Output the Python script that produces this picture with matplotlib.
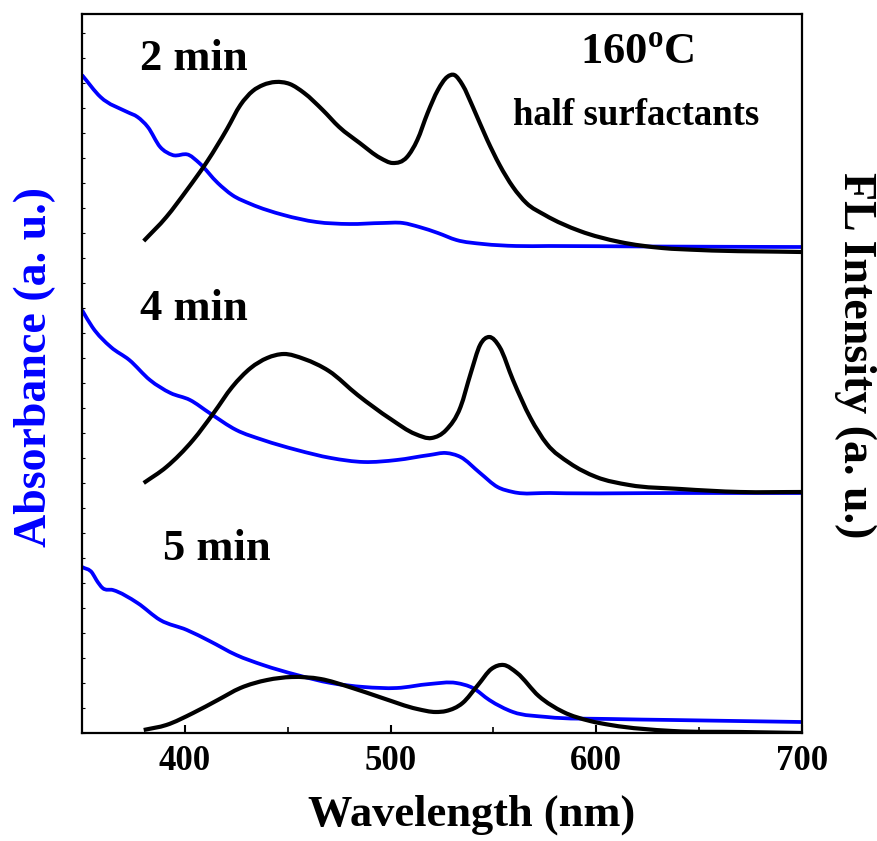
import matplotlib
matplotlib.use("Agg")
import matplotlib.pyplot as plt
from matplotlib.path import Path
from matplotlib.patches import PathPatch
from matplotlib.ticker import MultipleLocator, NullFormatter

# ---------------- data (wavelength nm, intensity a.u.) ----------------
abs2_wl = [350, 359, 372, 377, 382, 388, 394, 402, 407, 416, 423, 432, 448, 464, 480,
           496, 506, 514, 523, 532, 545, 561, 577, 626, 700]
abs2_y = [65.8, 63.6, 62.1, 61.6, 60.6, 58.6, 57.8, 57.8, 57.0, 55.0, 53.8, 52.9, 51.8, 51.1, 50.9,
          51.0, 51.0, 50.6, 50.0, 49.3, 48.9, 48.7, 48.7, 48.65, 48.6]

fl2_wl = [380, 391, 401, 411, 420.5, 427, 433, 438, 444, 451, 458, 467, 475, 485, 495, 501,
          508, 513, 518, 523, 527.5, 531, 535, 540, 547, 553, 559.5, 566, 575, 592, 611.5,
          632, 650, 700]
fl2_y = [49.2, 51.6, 54.3, 57.2, 60.4, 62.8, 64.2, 64.8, 65.1, 64.9, 64.0, 62.3, 60.6, 59.0,
         57.5, 57.0, 57.6, 59.3, 62.0, 64.3, 65.6, 65.8, 64.8, 62.6, 59.3, 56.8, 54.6, 53.0,
         51.8, 50.2, 49.1, 48.5, 48.3, 48.1]

abs4_wl = [350, 355, 364, 373, 383, 393, 402.5, 412, 425, 438, 454.5, 471, 487, 503, 519,
           527, 534, 543.5, 552, 559.5, 577.5, 641, 700]
abs4_y = [42.3, 40.6, 38.6, 37.3, 35.3, 34.0, 33.3, 32.0, 30.3, 29.3, 28.3, 27.5, 27.1, 27.3,
          27.8, 28.0, 27.6, 26.0, 24.6, 24.1, 24.0, 24.0, 24.0]

fl4_wl = [380, 391, 404, 414, 423, 432, 440, 448, 458, 470, 484, 500, 512, 520, 527, 534,
          539, 543.5, 548, 553, 559.5, 568, 576, 587, 600, 616, 641, 670, 700]
fl4_y = [25.0, 26.6, 29.3, 32.0, 34.6, 36.5, 37.5, 37.9, 37.4, 36.2, 33.8, 31.4, 29.9, 29.5,
         30.3, 32.6, 36.0, 38.8, 39.6, 38.6, 35.3, 31.5, 28.9, 27.0, 25.6, 24.8, 24.4, 24.1, 24.1]

abs5_wl = [350, 355, 357, 360, 365, 377, 388, 401, 412, 425, 438, 454.5, 471, 487, 503,
           519, 532, 540, 548, 559.5, 576, 607, 637, 700]
abs5_y = [16.6, 16.0, 15.3, 14.5, 14.3, 13.0, 11.3, 10.3, 9.2, 7.8, 6.8, 5.8, 5.0, 4.6, 4.5,
          4.9, 5.0, 4.5, 3.3, 2.1, 1.6, 1.4, 1.3, 1.1]

fl5_wl = [380, 391, 404, 416, 427, 440, 452, 466, 480, 496, 513, 522, 527, 535, 542.5,
          549, 555, 561.5, 572, 584, 597, 607, 637, 670, 700]
fl5_y = [0.3, 0.8, 2.0, 3.3, 4.5, 5.3, 5.6, 5.4, 4.6, 3.5, 2.4, 2.1, 2.2, 3.0, 4.8, 6.4,
         6.8, 6.0, 3.7, 2.1, 1.2, 0.8, 0.2, 0.1, 0.0]

xticks = [400, 500, 600, 700]
labels = ["2 min", "4 min", "5 min"]


def smooth_path(xs, ys):
    """Cubic Hermite (Bezier) path through the read points."""
    n = len(xs)
    slopes = []
    for i in range(n):
        if i == 0:
            m = (ys[1] - ys[0]) / (xs[1] - xs[0])
        elif i == n - 1:
            m = (ys[-1] - ys[-2]) / (xs[-1] - xs[-2])
        else:
            h0 = xs[i] - xs[i - 1]
            h1 = xs[i + 1] - xs[i]
            d0 = (ys[i] - ys[i - 1]) / h0
            d1 = (ys[i + 1] - ys[i]) / h1
            m = (d0 * h1 + d1 * h0) / (h0 + h1)
        slopes.append(m)
    verts = [(xs[0], ys[0])]
    codes = [Path.MOVETO]
    for i in range(n - 1):
        h = xs[i + 1] - xs[i]
        verts += [(xs[i] + h / 3, ys[i] + slopes[i] * h / 3),
                  (xs[i + 1] - h / 3, ys[i + 1] - slopes[i + 1] * h / 3),
                  (xs[i + 1], ys[i + 1])]
        codes += [Path.CURVE4] * 3
    return Path(verts, codes)


# ---------------- figure ----------------
plt.rcParams['font.family'] = ['Liberation Serif', 'DejaVu Serif']
plt.rcParams['font.weight'] = 'bold'
plt.rcParams['mathtext.fontset'] = 'custom'
plt.rcParams['mathtext.rm'] = 'Liberation Serif:bold'
plt.rcParams['mathtext.bf'] = 'Liberation Serif:bold'

fig = plt.figure(figsize=(8.78, 8.41), dpi=100)
ax = fig.add_axes([82/878, 1-733/841, 720/878, 719/841])

blue = '#0000ff'
for wl, y in [(abs2_wl, abs2_y), (abs4_wl, abs4_y), (abs5_wl, abs5_y)]:
    ax.add_patch(PathPatch(smooth_path(wl, y), fill=False, edgecolor=blue, lw=2.7,
                           capstyle='butt', joinstyle='round'))
for wl, y in [(fl2_wl, fl2_y), (fl4_wl, fl4_y), (fl5_wl, fl5_y)]:
    ax.add_patch(PathPatch(smooth_path(wl, y), fill=False, edgecolor='black', lw=3.0,
                           capstyle='butt', joinstyle='round'))

ax.set_xlim(350, 700)
ax.set_ylim(0, 71.9)
ax.set_xticks(xticks)
ax.xaxis.set_minor_locator(MultipleLocator(50))
ax.yaxis.set_major_locator(MultipleLocator(2.5))
ax.yaxis.set_major_formatter(NullFormatter())
ax.tick_params(axis='x', which='major', direction='in', length=6, width=1.5,
               labelsize=25, pad=9)
ax.tick_params(axis='x', which='minor', direction='in', length=4, width=1.2)
ax.tick_params(axis='y', which='major', direction='in', length=2, width=0.8, left=True)
for sp in ax.spines.values():
    sp.set_linewidth(1.6)
    sp.set_zorder(3)
for lab in ax.get_xticklabels():
    lab.set_fontweight('bold')

tk = dict(transform=ax.transAxes, fontsize=32, fontweight='bold', va='baseline', ha='left')
ax.text(0.0806, 0.922, labels[0], **tk)
ax.text(0.0806, 0.5744, labels[1], **tk)
ax.text(0.1125, 0.2406, labels[2], **tk)
ax.text(0.692, 0.929, r'160$^{\mathrm{o}}$C', **tk)
ax.text(0.599, 0.8456, 'half surfactants', transform=ax.transAxes, fontsize=26.5,
        fontweight='bold', va='baseline', ha='left')

fig.text(472/878, 1-815/841, 'Wavelength (nm)', fontsize=32, fontweight='bold',
         ha='center', va='center')
fig.text(35/878, 1-367/841, 'Absorbance (a. u.)', fontsize=33, fontweight='bold',
         color=blue, rotation=90, ha='center', va='center')
fig.text(855/878, 1-355/841, 'FL Intensity (a. u.)', fontsize=33, fontweight='bold',
         color='black', rotation=270, ha='center', va='center')

fig.savefig('out.png', dpi=100)
